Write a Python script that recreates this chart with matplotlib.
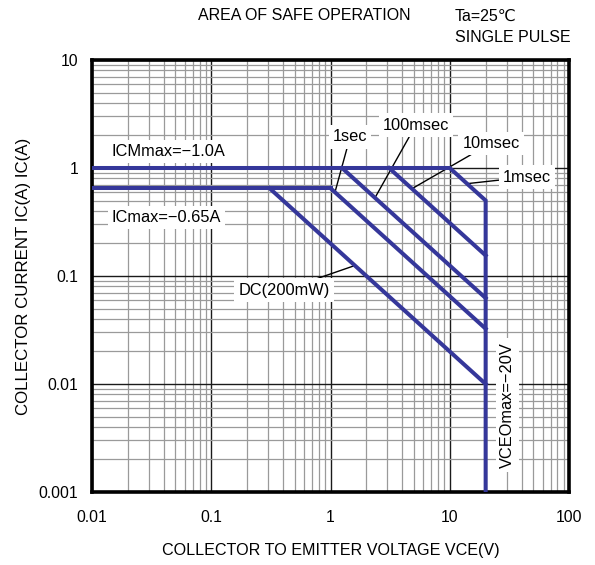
import matplotlib.pyplot as plt
from matplotlib.ticker import LogLocator, FixedLocator, FixedFormatter, NullFormatter

plt.rcParams["font.family"] = ["Liberation Sans", "DejaVu Sans"]
plt.rcParams["font.size"] = 11

# current limits
icm_max = 1.0
ic_max = 0.65
vceo_max = 20

# safe operating area outline (1 msec pulse + VCEO limit)
outline_v = [0.01, 10, 20, 20]
outline_i = [1.0, 1.0, 0.5, 0.001]

icmax_v = [0.01, 1.0]
icmax_i = [0.65, 0.65]

dc_v = [0.308, 20]
dc_i = [0.65, 0.01]

sec1_v = [1.0, 20]
sec1_i = [0.65, 0.0325]

ms100_v = [1.25, 20]
ms100_i = [1.0, 0.0625]

ms10_v = [3.1, 20]
ms10_i = [1.0, 0.155]

xticks = [0.01, 0.1, 1, 10, 100]
xtick_labels = ["0.01", "0.1", "1", "10", "100"]
yticks = [0.001, 0.01, 0.1, 1, 10]
ytick_labels = ["0.001", "0.01", "0.1", "1", "10"]

blue = "#35379a"
fs = 11.8

fig = plt.figure(figsize=(5.95, 5.65), dpi=100)
ax = fig.add_axes([92 / 595, 1 - 492 / 565, 477 / 595, 432 / 565])

ax.set_xscale("log")
ax.set_yscale("log")
ax.set_xlim(0.01, 100)
ax.set_ylim(0.001, 10)

ax.xaxis.set_major_locator(FixedLocator(xticks))
ax.xaxis.set_major_formatter(FixedFormatter(xtick_labels))
ax.yaxis.set_major_locator(FixedLocator(yticks))
ax.yaxis.set_major_formatter(FixedFormatter(ytick_labels))
ax.xaxis.set_minor_locator(LogLocator(base=10, subs=range(2, 10), numticks=20))
ax.yaxis.set_minor_locator(LogLocator(base=10, subs=range(2, 10), numticks=20))
ax.xaxis.set_minor_formatter(NullFormatter())
ax.yaxis.set_minor_formatter(NullFormatter())

ax.tick_params(which="both", length=0, labelsize=11.3, colors="black")
ax.tick_params(axis="x", pad=13)
ax.tick_params(axis="y", pad=10)

ax.grid(which="major", color="#1a1a1a", linewidth=1.0)
ax.grid(which="minor", color="#9a9a9a", linewidth=0.9)
ax.set_axisbelow(True)

for sp in ax.spines.values():
    sp.set_linewidth(2.6)
    sp.set_color("black")

lw = 2.9
ax.plot(outline_v, outline_i, color=blue, lw=lw, zorder=4, solid_joinstyle="miter")
ax.plot(icmax_v, icmax_i, color=blue, lw=lw, zorder=4)
ax.plot(dc_v, dc_i, color=blue, lw=lw, zorder=4)
ax.plot(sec1_v, sec1_i, color=blue, lw=lw, zorder=4)
ax.plot(ms100_v, ms100_i, color=blue, lw=lw, zorder=4)
ax.plot(ms10_v, ms10_i, color=blue, lw=lw, zorder=4)

box = dict(facecolor="white", edgecolor="none", pad=3)
lead = dict(arrowstyle="-", color="black", lw=1.0, shrinkA=0, shrinkB=0)

ax.text(0.0147, 1.41, "ICMmax=\u22121.0A", fontsize=fs, va="center", ha="left", bbox=box, zorder=3)
ax.text(0.0147, 0.351, "ICmax=\u22120.65A", fontsize=fs, va="center", ha="left", bbox=box, zorder=3)

ax.annotate("DC(200mW)", xy=(1.6, 0.125), xytext=(0.407, 0.0741), fontsize=fs,
            ha="center", va="center", bbox=box, arrowprops=lead, zorder=3)
ax.annotate("1sec", xy=(1.09, 0.596), xytext=(1.46, 1.94), fontsize=fs,
            ha="center", va="center", bbox=box, arrowprops=lead, zorder=3)
ax.annotate("100msec", xy=(2.36, 0.53), xytext=(5.2, 2.5), fontsize=fs,
            ha="center", va="center", bbox=box, arrowprops=lead, zorder=3)
ax.annotate("10msec", xy=(4.82, 0.643), xytext=(22.2, 1.70), fontsize=fs,
            ha="center", va="center", bbox=box, arrowprops=lead, zorder=3)
ax.annotate("1msec", xy=(13.96, 0.716), xytext=(44.5, 0.825), fontsize=fs,
            ha="center", va="center", bbox=box, arrowprops=lead, zorder=3)

ax.text(30.7, 0.0064, "VCEOmax=\u221220V", fontsize=fs, rotation=90,
        ha="center", va="center", bbox=box, zorder=3)

ax.set_xlabel("COLLECTOR TO EMITTER VOLTAGE VCE(V)", fontsize=11.6)
ax.set_ylabel("COLLECTOR CURRENT IC(A) IC(A)", fontsize=12.2)
ax.xaxis.set_label_coords(0.5, -0.117)
ax.yaxis.set_label_coords(-0.127, 0.5)

fig.text(304 / 595, 1 - 16 / 565, "AREA OF SAFE OPERATION", fontsize=11.5, ha="center", va="center")
fig.text(455 / 595, 1 - 16 / 565, "Ta=25\u2103", fontsize=11.5, ha="left", va="center")
fig.text(455 / 595, 1 - 37 / 565, "SINGLE PULSE", fontsize=11.5, ha="left", va="center")

fig.savefig("out.png", dpi=100)
